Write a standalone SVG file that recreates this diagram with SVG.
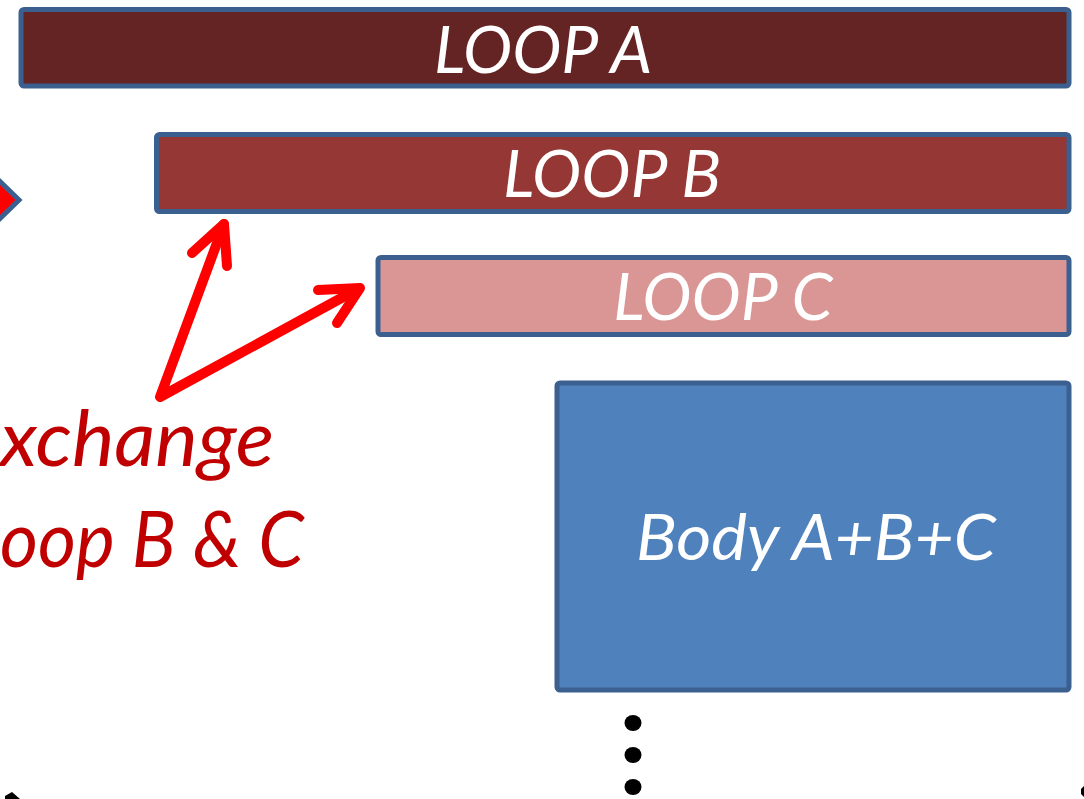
<svg xmlns="http://www.w3.org/2000/svg" width="1084" height="799" viewBox="0 0 1084 799">
  <style>
    .box { stroke: #3b6090; stroke-width: 5; }
    .lbl { font-family: Lato, "Open Sans", "Liberation Sans", sans-serif; font-style: italic; fill: #ffffff; text-anchor: middle; }
    .note { font-family: Lato, "Open Sans", "Liberation Sans", sans-serif; font-style: italic; fill: #c00000; font-size: 78px; }
    .arrow { fill: none; stroke: #ff0000; stroke-width: 10; stroke-linecap: round; stroke-linejoin: round; }
  </style>
  <rect width="1084" height="799" fill="#ffffff"/>

  <g id="loop-a">
    <rect class="box" x="21" y="9.5" width="1048" height="76.5" rx="3" fill="#632423"/>
    <text class="lbl" x="543" y="73" font-size="66">LOOP A</text>
  </g>

  <g id="loop-b">
    <rect class="box" x="156.5" y="134.5" width="912.5" height="77" rx="3" fill="#953735"/>
    <text class="lbl" x="612" y="197" font-size="66">LOOP B</text>
  </g>

  <g id="loop-c">
    <rect class="box" x="378" y="257.5" width="691" height="77" rx="3" fill="#d99694"/>
    <text class="lbl" x="723" y="320" font-size="66">LOOP C</text>
  </g>

  <g id="body">
    <rect class="box" x="557" y="383" width="512" height="307" rx="3" fill="#4f81bd"/>
    <text class="lbl" x="816" y="560" font-size="64" textLength="360" lengthAdjust="spacingAndGlyphs">Body A+B+C</text>
  </g>

  <g id="marker-left">
    <polygon points="-22,160 19,200 -22,240" fill="#ff0000" stroke="#3b6090" stroke-width="5"/>
  </g>

  <g id="note">
    <text class="note" x="0" y="466" textLength="274" lengthAdjust="spacingAndGlyphs">xchange</text>
    <text class="note" x="0" y="567" textLength="304" lengthAdjust="spacingAndGlyphs">oop B &amp; C</text>
  </g>

  <g id="connectors">
    <polyline class="arrow" points="224,224 160,397 356,290"/>
    <polyline class="arrow" points="192,253 224,224 227,266"/>
    <polyline class="arrow" points="318,290 360,288 337,323"/>
  </g>

  <g id="ellipsis" fill="#000000">
    <ellipse cx="633" cy="723" rx="8.5" ry="8"/>
    <ellipse cx="633" cy="755" rx="8.5" ry="8"/>
    <ellipse cx="633" cy="787" rx="8.5" ry="8"/>
  </g>

  <g id="edge-marks" fill="#000000">
    <polygon points="5,796 12,792 20,799 5,799"/>
    <polygon points="1081,789 1084,786 1084,797 1081,794"/>
  </g>
</svg>
